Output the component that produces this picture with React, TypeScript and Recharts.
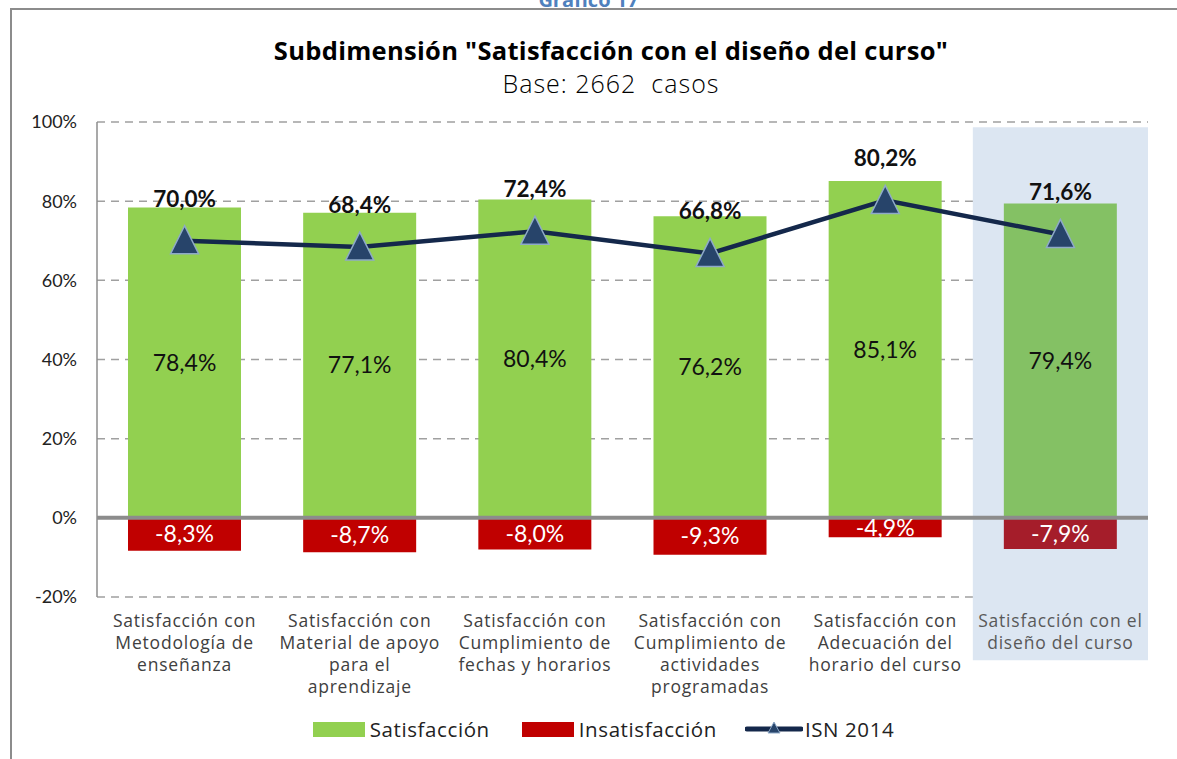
import {
  ComposedChart,
  Bar,
  Line,
  XAxis,
  YAxis,
  CartesianGrid,
  ReferenceArea,
  ReferenceLine,
  LabelList,
  Cell,
} from "recharts";

const categories = [
  "Satisfacción con\nMetodología de\nenseñanza",
  "Satisfacción con\nMaterial de apoyo\npara el\naprendizaje",
  "Satisfacción con\nCumplimiento de\nfechas y horarios",
  "Satisfacción con\nCumplimiento de\nactividades\nprogramadas",
  "Satisfacción con\nAdecuación del\nhorario del curso",
  "Satisfacción con el\ndiseño del curso",
];
const satisfaccion = [78.4, 77.1, 80.4, 76.2, 85.1, 79.4];
const insatisfaccion = [-8.3, -8.7, -8.0, -9.3, -4.9, -7.9];
const isn2014 = [70.0, 68.4, 72.4, 66.8, 80.2, 71.6];
const yTicks = [-20, 0, 20, 40, 60, 80, 100];

const highlighted = categories.length - 1;

const data = categories.map((name, i) => ({
  name,
  satisfaccion: satisfaccion[i],
  insatisfaccion: insatisfaccion[i],
  isn: isn2014[i],
}));

const pct = (v: number) => `${v.toFixed(1).replace(".", ",")}%`;
const sans = "'Open Sans', sans-serif";
const calibri = "Lato, sans-serif";

const CategoryTick = ({ x, y, payload, index }: any) => {
  const lines = String(payload.value).split("\n");
  return (
    <text
      x={x}
      y={y + 22}
      textAnchor="middle"
      fontFamily={sans}
      fontSize={17.5}
      letterSpacing={0.8}
      fill={index === highlighted ? "#595959" : "#404040"}
    >
      {lines.map((l, i) => (
        <tspan key={i} x={x} dy={i === 0 ? 0 : 22}>
          {l}
        </tspan>
      ))}
    </text>
  );
};

const Triangle = ({ cx, cy }: any) => (
  <polygon
    points={`${cx},${cy - 15} ${cx - 14},${cy + 13} ${cx + 14},${cy + 13}`}
    fill="#27446a"
    stroke="#8ea9c8"
    strokeWidth={1.5}
  />
);

const LineLabel = ({ x, y, value }: any) => (
  <text
    x={x}
    y={y - 34}
    textAnchor="middle"
    fontFamily={calibri}
    fontWeight={700}
    fontSize={22.5}
    fill="#111"
  >
    {pct(value)}
  </text>
);

const Legend = () => (
  <div
    style={{
      position: "absolute",
      top: 715,
      left: 0,
      width: 1177,
      display: "flex",
      justifyContent: "center",
      alignItems: "center",
      fontFamily: sans,
      fontSize: 20.5,
      letterSpacing: 0.6,
      color: "#222",
      paddingLeft: 30,
      boxSizing: "border-box",
    }}
  >
    <span style={{ width: 52, height: 15, background: "#92d050", marginRight: 5 }} />
    <span style={{ marginRight: 32 }}>Satisfacción</span>
    <span style={{ width: 52, height: 15, background: "#c00000", marginRight: 5 }} />
    <span style={{ marginRight: 28 }}>Insatisfacción</span>
    <svg width={58} height={20} style={{ marginRight: 2 }}>
      <line x1={2} y1={10} x2={56} y2={10} stroke="#14284b" strokeWidth={5} strokeLinecap="round" />
      <polygon points="29,3 23,14 35,14" fill="#27446a" stroke="#8ea9c8" strokeWidth={1} />
    </svg>
    <span>ISN 2014</span>
  </div>
);

export default function App() {
  return (
    <div
      style={{
        position: "absolute",
        top: 0,
        left: 0,
        width: 1177,
        height: 759,
        overflow: "hidden",
        background: "#fff",
      }}
    >
      <div
        style={{
          position: "absolute",
          top: -14,
          left: 0,
          width: 1177,
          textAlign: "center",
          fontFamily: sans,
          fontWeight: 700,
          fontSize: 20,
          color: "#4f81bd",
        }}
      >
        Gráfico 17
      </div>
      <div
        style={{
          position: "absolute",
          top: 8,
          left: 10,
          width: 1200,
          height: 800,
          border: "2px solid #8c8c8c",
        }}
      />
      <div
        style={{
          position: "absolute",
          top: 33,
          left: 0,
          width: 1222,
          textAlign: "center",
          fontFamily: sans,
          fontWeight: 700,
          fontSize: 25.5,
          letterSpacing: 0.3,
          color: "#000",
        }}
      >
        Subdimensión "Satisfacción con el diseño del curso"
      </div>
      <div
        style={{
          position: "absolute",
          top: 66,
          left: 0,
          width: 1222,
          textAlign: "center",
          fontFamily: sans,
          fontWeight: 300,
          fontSize: 25,
          letterSpacing: 1,
          color: "#000",
          whiteSpace: "pre",
        }}
      >
        {"Base: 2662  casos"}
      </div>
      <div style={{ position: "absolute", top: 0, left: 0 }}>
        <ComposedChart
          width={1177}
          height={759}
          data={data}
          stackOffset="sign"
          margin={{ top: 122, right: 29, bottom: 132, left: 0 }}
        >
          <ReferenceArea
            x1={categories[highlighted]}
            x2={categories[highlighted]}
            y1={-36}
            y2={98.7}
            ifOverflow="visible"
            fill="#dce6f2"
            fillOpacity={1}
            stroke="none"
          />
          <CartesianGrid
            vertical={false}
            strokeDasharray="8 6"
            stroke="#a0a0a0"
            strokeWidth={1.5}
          />
          <XAxis
            dataKey="name"
            height={30}
            axisLine={false}
            tickLine={false}
            interval={0}
            tick={<CategoryTick />}
          />
          <YAxis
            domain={[-20, 100]}
            ticks={yTicks}
            width={97}
            tickLine={false}
            tickMargin={14}
            axisLine={{ stroke: "#8c8c8c", strokeWidth: 1.5 }}
            tickFormatter={(v) => `${v}%`}
            tick={{ fontFamily: calibri, fontSize: 18, fill: "#222" }}
          />
          <Bar
            dataKey="satisfaccion"
            stackId="a"
            barSize={113}
            fill="#92d050"
            isAnimationActive={false}
          >
            {data.map((_, i) => (
              <Cell key={i} fill={i === highlighted ? "#84c164" : "#92d050"} />
            ))}
            <LabelList
              dataKey="satisfaccion"
              position="center"
              formatter={(v: any) => pct(v)}
              fill="#111"
              fontFamily={calibri}
              fontSize={23}
            />
          </Bar>
          <Bar
            dataKey="insatisfaccion"
            stackId="a"
            barSize={113}
            fill="#c00000"
            isAnimationActive={false}
          >
            {data.map((_, i) => (
              <Cell key={i} fill={i === highlighted ? "#a51d2a" : "#c00000"} />
            ))}
            <LabelList
              dataKey="insatisfaccion"
              position="center"
              formatter={(v: any) => pct(v)}
              fill="#fff"
              fontFamily={calibri}
              fontSize={23}
            />
          </Bar>
          <ReferenceLine y={0} stroke="#8c8c8c" strokeWidth={4} />
          <Line
            dataKey="isn"
            stroke="#14284b"
            strokeWidth={4.5}
            dot={<Triangle />}
            activeDot={false}
            isAnimationActive={false}
          >
            <LabelList dataKey="isn" content={<LineLabel />} />
          </Line>
        </ComposedChart>
      </div>
      <Legend />
    </div>
  );
}
